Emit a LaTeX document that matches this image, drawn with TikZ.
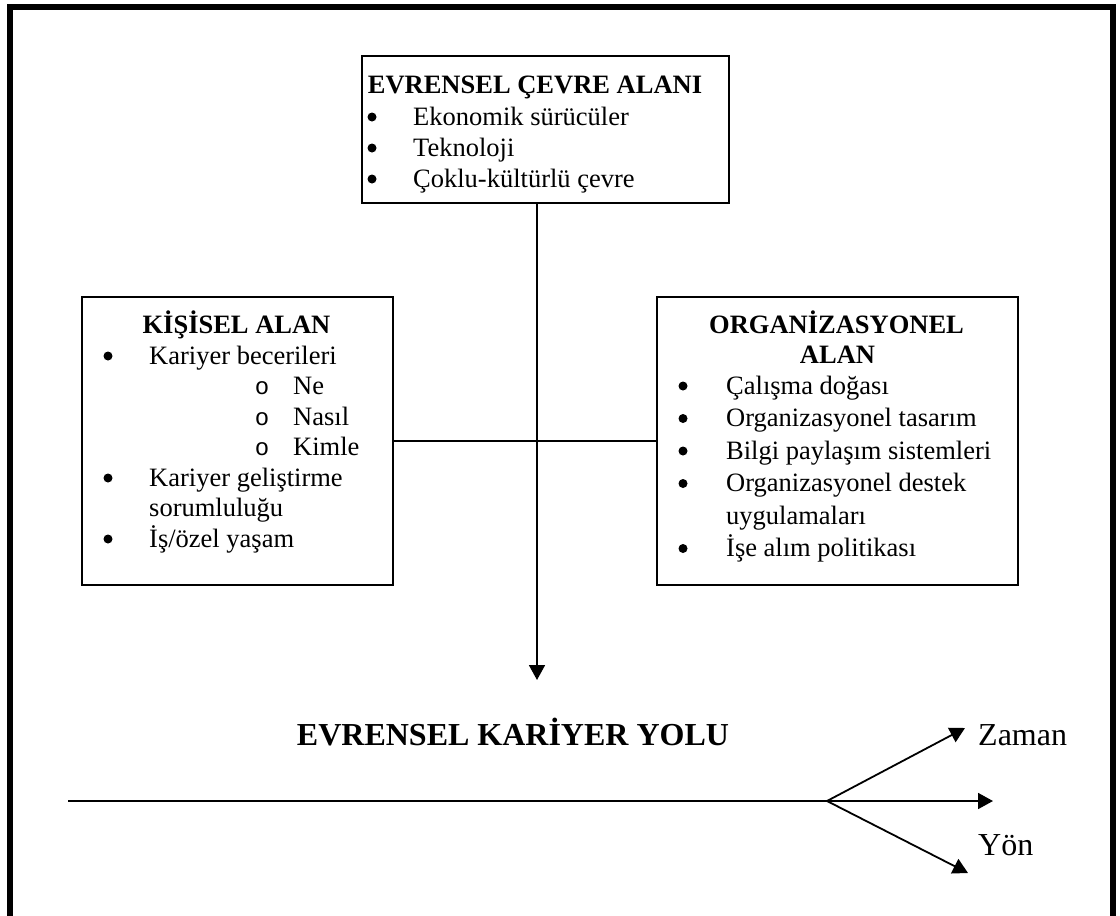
\documentclass[tikz,border=0pt]{standalone}
\usepackage{fontspec}
\setmainfont{Liberation Serif}
\newfontfamily\markfont{Liberation Mono}
\usetikzlibrary{arrows.meta}
\begin{document}
\begin{tikzpicture}[x=1pt,y=-1pt,
  box/.style={draw,line width=1.8pt,inner sep=0pt,outer sep=0pt},
  item/.style={anchor=base west,inner sep=0pt,font=\fontsize{26.5}{30}\selectfont},
  head/.style={anchor=base,inner sep=0pt,font=\fontsize{26.5}{30}\selectfont\bfseries},
  subdot/.style={anchor=base,inner sep=0pt,font=\fontsize{24}{30}\selectfont\markfont},
  conn/.style={line width=1.8pt},
  arr/.style={line width=1.8pt,-{Triangle[length=15pt,width=16pt]}},
  bigtitle/.style={anchor=base,inner sep=0pt,font=\fontsize{32}{36}\selectfont\bfseries},
  biglabel/.style={anchor=base west,inner sep=0pt,font=\fontsize{32}{36}\selectfont}]
\useasboundingbox (0,0) rectangle (1120,916);

% outer frame, open at the bottom
\draw[line width=6pt,line join=miter] (9.5,916) -- (9.5,7) -- (1113,7) -- (1113,916);

% the three domain boxes
\node[box,minimum width=367pt,minimum height=147pt] (global) at (545.5,129.5) {};
\node[box,minimum width=311pt,minimum height=288pt] (personal) at (237.5,441) {};
\node[box,minimum width=361pt,minimum height=288pt] (org) at (837.5,441) {};

% global environment domain
\node[head] (gh) at (535,93) {EVRENSEL ÇEVRE ALANI};
\node[item] (g1) at (413,125) {Ekonomik sürücüler};
\node[item] (g2) at (413,156) {Teknoloji};
\node[item] (g3) at (413,187) {Çoklu-kültürlü çevre};
\foreach \y in {125,156,187} \fill (372,\y-8) circle (4.5pt);

% personal domain
\node[head] (ph) at (236.5,333) {KİŞİSEL ALAN};
\node[item] (p1) at (149,364) {Kariyer becerileri};
\node[item] (p2) at (293,394.5) {Ne};
\node[item] (p3) at (293,425) {Nasıl};
\node[item] (p4) at (293,455.5) {Kimle};
\node[item] (p5) at (149,486) {Kariyer geliştirme};
\node[item] (p6) at (149,516.5) {sorumluluğu};
\node[item] (p7) at (149,547) {İş/özel yaşam};
\foreach \y in {364,486,547} \fill (108,\y-8) circle (4.5pt);
\node[subdot] (s1) at (262,394.5) {o};
\node[subdot] (s2) at (262,425) {o};
\node[subdot] (s3) at (262,455.5) {o};

% organisational domain
\node[head] (oh1) at (836.5,333) {ORGANİZASYONEL};
\node[head] (oh2) at (837.5,363) {ALAN};
\node[item] (o1) at (726,394) {Çalışma doğası};
\node[item] (o2) at (726,426.5) {Organizasyonel tasarım};
\node[item] (o3) at (726,459) {Bilgi paylaşım sistemleri};
\node[item] (o4) at (726,491.5) {Organizasyonel destek};
\node[item] (o5) at (726,524) {uygulamaları};
\node[item] (o6) at (726,556.5) {İşe alım politikası};
\foreach \y in {394,426.5,459,491.5,556.5} \fill (683,\y-8) circle (4.5pt);

% connectors between the domains
\coordinate (hub) at (537,441);
\coordinate (down) at (537,680);
\draw[conn] (personal.east |- hub) -- (org.west |- hub);
\draw[arr] (global.south -| hub) -- (down);

% career path
\node[bigtitle] (path) at (513,745) {EVRENSEL KARİYER YOLU};
\node[biglabel] (time) at (978,745) {Zaman};
\node[biglabel] (dir) at (978,855) {Yön};
\coordinate (start) at (68,801);
\coordinate (fork) at (827,801);
\coordinate (ahead) at (993,801);
\coordinate (up) at (965,728);
\coordinate (low) at (968,873);
\draw[conn] (start) -- (fork);
\draw[arr] (fork) -- (ahead);
\draw[arr] (fork) -- (up);
\draw[arr] (fork) -- (low);
\end{tikzpicture}
\end{document}
